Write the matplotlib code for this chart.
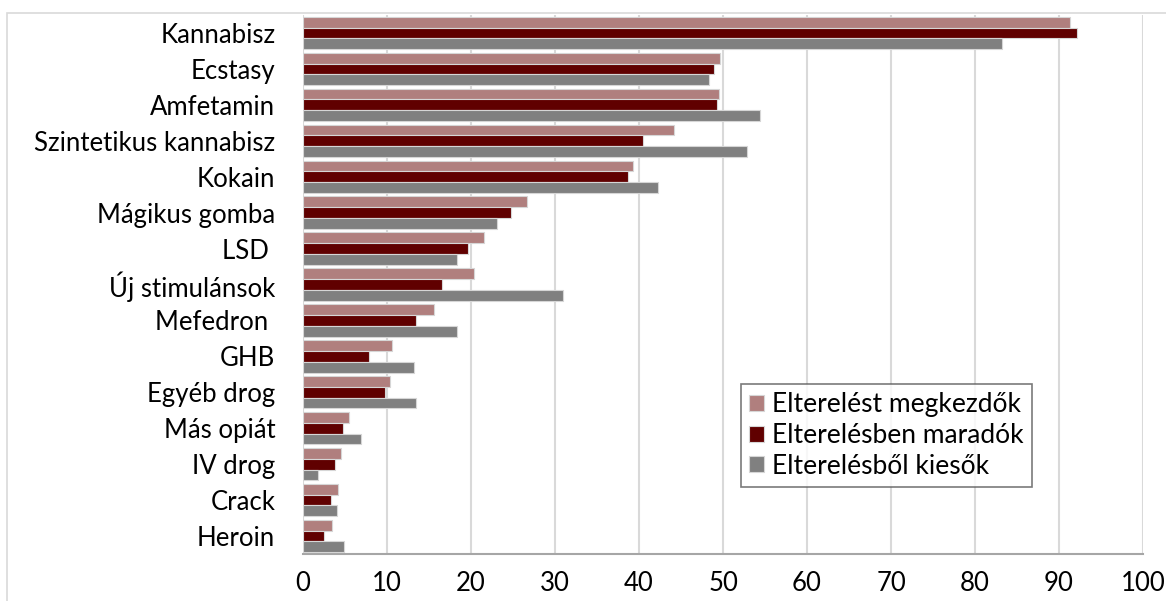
import numpy as np
import matplotlib.pyplot as plt
from matplotlib.patches import Rectangle

plt.rcParams['font.family'] = ['Lato', 'DejaVu Sans']

# Drug categories, top to bottom
drugs = ["Kannabisz", "Ecstasy", "Amfetamin", "Szintetikus kannabisz", "Kokain",
         "Mágikus gomba", "LSD ", "Új stimulánsok", "Mefedron ", "GHB",
         "Egyéb drog", "Más opiát", "IV drog", "Crack", "Heroin"]

# Percentages per group
kezdok = [91.3, 49.6, 49.5, 44.2, 39.3, 26.7, 21.6, 20.4, 15.6, 10.6, 10.4, 5.5, 4.5, 4.2, 3.5]
maradok = [92.1, 48.9, 49.3, 40.5, 38.7, 24.8, 19.6, 16.6, 13.5, 7.9, 9.8, 4.7, 3.8, 3.3, 2.5]
kiesok = [83.2, 48.3, 54.4, 52.9, 42.3, 23.1, 18.3, 30.9, 18.3, 13.2, 13.4, 6.9, 1.8, 4.0, 4.9]

series = [("Elterelést megkezdők", kezdok, "#b07f7e"),
          ("Elterelésben maradók", maradok, "#600000"),
          ("Elterelésből kiesők", kiesok, "#808080")]

fig = plt.figure(figsize=(11.66, 6.01), dpi=100)
ax = fig.add_axes([0.2599, 0.0782, 0.7204, 0.8968])

# outer chart frame
fig.patches.append(Rectangle((7 / 1166, -0.1), 1.2, 1 - 13 / 601 + 0.1,
                             transform=fig.transFigure, fill=False,
                             edgecolor="#d9d9d9", linewidth=1.2))

y = np.arange(len(drugs))
h = 0.30
for k, (name, vals, col) in enumerate(series):
    ax.barh(y + (k - 1) * h, vals, height=h, color=col, label=name,
            edgecolor="#d6d6d6", linewidth=0.8, zorder=3)

ax.set_xlim(0, 100)
ax.set_ylim(len(drugs) - 0.5, -0.5)
ax.set_xticks(np.arange(0, 101, 10))
ax.set_yticks(y)
ax.set_yticklabels(drugs)
ax.tick_params(axis="both", length=0, labelsize=18.5, colors="black")
ax.tick_params(axis="x", pad=12)
ax.tick_params(axis="y", pad=20)
ax.grid(axis="x", color="#d9d9d9", linewidth=1.5, zorder=0)
for s in ["top", "right", "left"]:
    ax.spines[s].set_visible(False)
ax.spines["bottom"].set_color("#a6a6a6")
ax.spines["bottom"].set_linewidth(1.5)

leg = ax.legend(loc="upper left", bbox_to_anchor=(0.521, 0.316), fontsize=19,
                frameon=True, fancybox=False, handlelength=0.55, handleheight=0.55,
                handletextpad=0.3, labelspacing=0.22, borderpad=0.32,
                borderaxespad=0)
leg.get_frame().set_edgecolor("#595959")
leg.get_frame().set_linewidth(1.2)

fig.savefig("out.png", dpi=100)
